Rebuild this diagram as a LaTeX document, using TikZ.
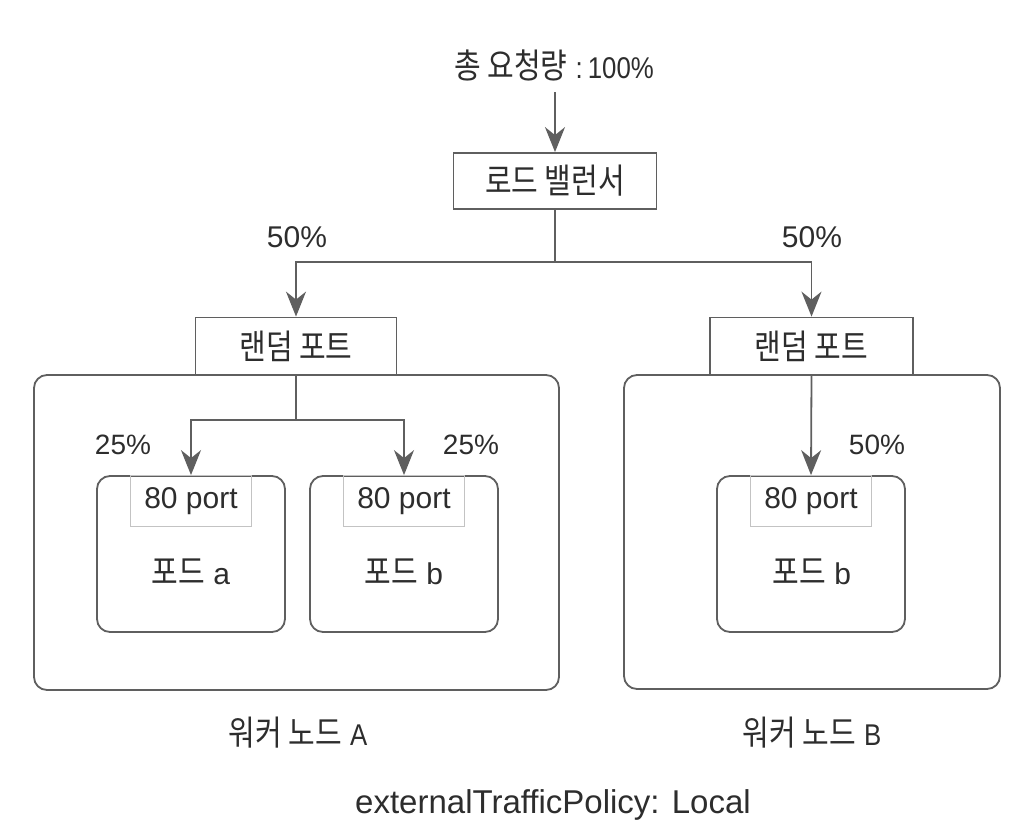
\documentclass[tikz,border=0pt]{standalone}
\usepackage{fontspec}
\setmainfont{Liberation Sans}
\newfontfamily\kr[FakeStretch=0.84,Scale=1.15]{Noto Sans CJK KR}
\newfontfamily\narrow[FakeStretch=0.86]{Liberation Sans}
\usetikzlibrary{arrows.meta}
\definecolor{linegray}{RGB}{95,95,95}
\definecolor{textgray}{RGB}{45,45,45}
\definecolor{portgray}{RGB}{195,195,195}
\begin{document}
\begin{tikzpicture}[x=1pt,y=-1pt,
	txt/.style={text=textgray,font=\fontsize{30}{36}\selectfont,inner sep=0pt},
	box/.style={draw=linegray,line width=1.8pt,fill=white,txt},
	worker/.style={draw=linegray,line width=1.8pt,rounded corners=13pt,inner sep=0pt},
	pod/.style={worker,minimum width=188pt,minimum height=156pt},
	portbox/.style={txt,draw=portgray,line width=1pt,minimum width=121pt,minimum height=51pt},
	flow/.style={draw=linegray,line width=1.8pt,-{Stealth[length=25pt,width=20pt,inset=8pt]}},
	link/.style={draw=linegray,line width=1.8pt}]
	\useasboundingbox (0,0) rectangle (1028,836);
	
	% traffic in and load balancer
	\node[txt] (total) at (554,65) {{\kr 총 요청량} {\narrow :\,100\%}};
	\coordinate (totalend) at (555,92);
	\node[box,minimum width=203pt,minimum height=56pt] (lb) at (555,181) {\kr 로드 밸런서};
	\draw[flow] (totalend) -- (lb.north);
	
	% worker nodes
	\node[worker,minimum width=525pt,minimum height=315pt] (nodeA) at (296.5,532.5) {};
	\node[worker,minimum width=376pt,minimum height=314pt] (nodeB) at (812,532) {};
	\node[box,minimum width=201pt,minimum height=57pt] (rportA) at (296,346) {\kr 랜덤 포트};
	\node[box,minimum width=203pt,minimum height=57pt] (rportB) at (811.5,346) {\kr 랜덤 포트};
	
	\coordinate (lbsplit) at (555,262);
	\draw[link] (lb.south) -- (lbsplit);
	\draw[flow] (lbsplit) -| (rportA.north);
	\draw[flow] (lbsplit) -| (rportB.north);
	\node[txt] (pctA) at (297,237) {50\%};
	\node[txt] (pctB) at (812,237) {50\%};
	
	% pods
	\node[pod] (podA) at (191,554) {};
	\node[pod] (podB) at (404,554) {};
	\node[pod] (podC) at (811,554) {};
	\node[portbox,anchor=north] (portA) at (podA.north) {80 port};
	\node[portbox,anchor=north] (portB) at (podB.north) {80 port};
	\node[portbox,anchor=north] (portC) at (podC.north) {80 port};
	\node[txt] (nameA) at (191,572) {{\kr 포드} a};
	\node[txt] (nameB) at (404,572) {{\kr 포드} b};
	\node[txt] (nameC) at (812,572) {{\kr 포드} b};
	
	\coordinate (rsplit) at (296,420);
	\draw[link] (rportA.south) -- (rsplit);
	\draw[flow] (rsplit) -| (podA.north);
	\draw[flow] (rsplit) -| (podB.north);
	\draw[flow] (rportB.south) -- (podC.north);
	\node[txt,font=\fontsize{28}{34}\selectfont] (pctAa) at (123,445) {25\%};
	\node[txt,font=\fontsize{28}{34}\selectfont] (pctAb) at (471,445) {25\%};
	\node[txt,font=\fontsize{28}{34}\selectfont] (pctBb) at (877,445) {50\%};
	
	% captions
	\node[txt] (capA) at (298,733) {{\kr 워커 노드} {\narrow A}};
	\node[txt] (capB) at (812,733) {{\kr 워커 노드} {\narrow B}};
	\node[txt,font=\fontsize{33}{40}\selectfont] (policy) at (553,805) {externalTrafficPolicy: Local};
\end{tikzpicture}
\end{document}
